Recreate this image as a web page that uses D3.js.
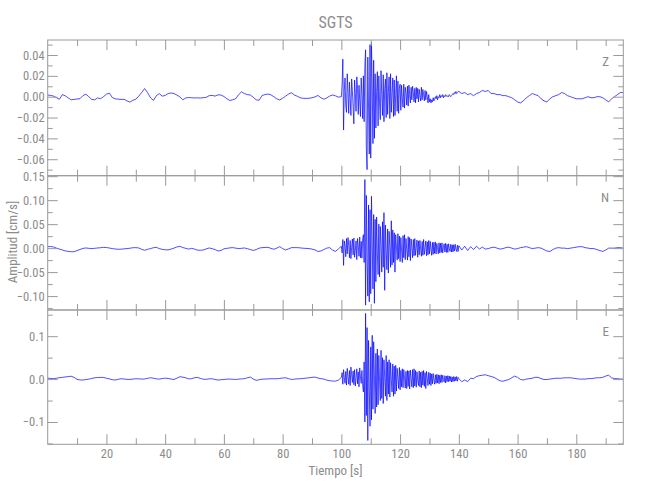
<!DOCTYPE html>
<html>
<head>
<meta charset="utf-8">
<script src="https://cdn.jsdelivr.net/npm/d3@7"></script>
<style>
  body { margin: 0; background: #fff; }
  text { font-family: "Liberation Sans Narrow", "Roboto Condensed", "DejaVu Sans Condensed", sans-serif; fill: #8c8c8c; }
</style>
</head>
<body>
<script>
'use strict';

// time limits of the record [s]
const timeRange = [0, 196];

// samples are 1 s apart before 100 s and after 140 s, 0.25 s apart in between
const preStart = 0, preStep = 1;
const strongStart = 100, strongStep = 0.25;
const codaStart = 140, codaStep = 1;

// ---- Z component [cm/s] ----
const zPre = [
  0.0016, 0.0012, 0.0006, -0.0010, -0.0024, 0.0020, 0.0008, -0.0012, -0.0030, -0.0026,
  -0.0022, -0.0019, 0.0010, 0.0024, 0.0000, -0.0026, -0.0030, -0.0012, -0.0019, 0.0000,
  0.0024, 0.0034, -0.0008, -0.0020, -0.0024, -0.0026, -0.0025, -0.0040, -0.0052, -0.0034,
  -0.0024, 0.0005, 0.0040, 0.0078, 0.0040, -0.0010, -0.0036, 0.0010, 0.0030, 0.0005,
  0.0012, 0.0030, 0.0036, 0.0030, 0.0016, -0.0002, -0.0030, -0.0012, -0.0008, -0.0010,
  -0.0012, -0.0011, -0.0013, -0.0009, -0.0006, 0.0010, 0.0012, 0.0006, 0.0018, 0.0016,
  0.0002, -0.0020, -0.0036, -0.0030, -0.0020, 0.0020, 0.0046, 0.0030, 0.0020, 0.0016,
  -0.0005, -0.0030, -0.0034, 0.0012, 0.0020, 0.0026, 0.0018, 0.0000, -0.0020, -0.0032,
  -0.0015, 0.0005, 0.0025, 0.0038, 0.0016, 0.0004, -0.0010, -0.0016, -0.0016, -0.0015,
  -0.0010, -0.0002, 0.0012, -0.0010, -0.0024, -0.0012, 0.0006, 0.0016, 0.0008, -0.0004
];
const zStrong = [
  0.000, 0.012, 0.036, -0.032, 0.006, 0.018, -0.009, -0.015,
  0.022, 0.004, -0.016, 0.014, -0.002, -0.018, 0.017, 0.006,
  -0.010, -0.026, 0.016, 0.003, -0.014, 0.019, 0.008, -0.017,
  0.011, -0.004, -0.019, 0.018, 0.002, -0.021, 0.020, -0.024,
  0.030, 0.045, -0.050, -0.070, 0.038, -0.010, -0.055, 0.050,
  -0.059, 0.052, 0.010, -0.045, 0.035, -0.040, 0.022, -0.030,
  0.005, 0.024, -0.028, 0.020, -0.006, -0.022, 0.025, 0.002,
  -0.018, 0.021, -0.024, 0.008, 0.017, -0.020, 0.023, -0.017,
  0.004, 0.019, -0.021, 0.022, -0.015, 0.003, 0.018, -0.019,
  0.016, -0.018, 0.002, 0.020, -0.014, 0.015, -0.016, 0.008,
  0.012, -0.013, 0.011, -0.002, -0.010, 0.012, -0.011, 0.009,
  0.004, -0.008, 0.010, -0.009, 0.011, 0.002, -0.006, 0.009,
  -0.003, 0.010, 0.004, -0.005, 0.008, -0.006, 0.009, -0.002,
  0.008, -0.005, 0.007, 0.001, -0.004, 0.009, -0.003, 0.007,
  0.002, -0.004, 0.006, -0.003, 0.005, 0.000, -0.006, 0.002,
  -0.005, -0.002, -0.006, -0.003, -0.005, -0.001, -0.004, -0.002,
  0.000, -0.002, 0.001, -0.003, 0.000, -0.001, 0.002, -0.001,
  0.001, 0.000, 0.002, -0.001, 0.001, 0.000, 0.002, 0.001,
  0.000, 0.001, 0.000, 0.002, 0.001, 0.000, 0.001, 0.002,
  0.003, 0.002, 0.004, 0.003, 0.005, 0.003, 0.004, 0.005
];
const zCoda = [
  0.005, 0.003, 0.004, 0.002, 0.003, 0.001, 0.003, 0.004, 0.006, 0.005,
  0.006, 0.003, 0.003, 0.002, 0.002, 0.001, 0.001, 0.000, -0.001, -0.003,
  -0.005, -0.006, -0.004, -0.001, 0.001, 0.003, 0.002, 0.001, -0.002, -0.004,
  -0.005, -0.002, 0.000, 0.001, 0.002, 0.004, 0.003, 0.001, 0.000, -0.001,
  -0.002, -0.002, -0.002, -0.001, 0.000, -0.001, -0.001, 0.000, 0.000, -0.001,
  -0.003, -0.005, -0.002, 0.000, 0.002, 0.004, 0.004
];

// ---- N component [cm/s] ----
const nPre = [
  0.0031, 0.0032, 0.0025, 0.0000, -0.0020, -0.0040, -0.0058, -0.0068, -0.0076, -0.0075,
  -0.0050, -0.0028, -0.0005, 0.0003, -0.0004, -0.0010, -0.0004, 0.0003, 0.0008, 0.0016,
  0.0012, 0.0002, -0.0010, -0.0018, -0.0024, -0.0022, -0.0015, -0.0010, -0.0002, 0.0008,
  0.0010, 0.0003, -0.0025, -0.0045, -0.0025, -0.0010, 0.0008, 0.0016, -0.0010, -0.0026,
  -0.0034, -0.0038, -0.0020, 0.0000, 0.0025, 0.0038, 0.0012, -0.0004, -0.0020, -0.0005,
  -0.0020, -0.0042, -0.0045, -0.0038, -0.0015, 0.0003, -0.0012, -0.0030, -0.0060, -0.0050,
  -0.0015, -0.0005, 0.0005, 0.0010, 0.0000, -0.0010, -0.0004, 0.0003, -0.0012, -0.0030,
  -0.0048, -0.0030, 0.0000, 0.0010, 0.0014, 0.0017, -0.0005, -0.0024, 0.0000, 0.0030,
  -0.0010, -0.0038, -0.0015, 0.0010, 0.0011, 0.0010, 0.0005, -0.0002, -0.0006, -0.0010,
  -0.0020, -0.0036, -0.0070, -0.0060, -0.0030, 0.0000, 0.0010, -0.0040, -0.0068, -0.0015
];
const nStrong = [
  0.004, -0.010, 0.018, -0.036, 0.015, 0.004, -0.018, 0.020,
  -0.012, 0.022, 0.006, -0.020, 0.016, -0.022, 0.002, 0.019,
  -0.014, 0.021, -0.019, -0.004, 0.015, -0.024, 0.020, 0.005,
  -0.017, 0.023, -0.020, 0.014, -0.021, 0.019, 0.028, -0.030,
  0.143, -0.119, 0.110, -0.020, -0.100, 0.090, -0.112, 0.080,
  -0.095, 0.108, 0.010, -0.085, 0.070, -0.115, 0.060, -0.070,
  0.065, -0.010, -0.055, 0.050, -0.060, 0.045, 0.005, -0.050,
  0.055, -0.040, 0.074, -0.088, 0.048, -0.006, -0.045, 0.040,
  -0.052, 0.035, 0.002, -0.040, 0.057, -0.035, 0.038, -0.030,
  0.032, -0.050, 0.028, 0.004, -0.025, 0.030, -0.022, 0.025,
  -0.028, 0.022, -0.004, -0.030, 0.026, -0.020, 0.028, -0.024,
  0.020, -0.002, -0.025, 0.024, -0.018, 0.022, -0.026, 0.019,
  0.003, -0.020, 0.018, -0.016, 0.020, -0.015, 0.002, 0.017,
  -0.019, 0.015, -0.014, 0.016, -0.003, -0.017, 0.014, -0.015,
  0.018, -0.013, 0.001, 0.015, -0.016, 0.013, -0.014, 0.016,
  -0.012, 0.014, -0.002, -0.015, 0.012, -0.013, 0.012, -0.011,
  0.013, -0.012, 0.010, 0.001, -0.012, 0.011, -0.010, 0.010,
  -0.009, 0.011, -0.010, 0.002, 0.009, -0.008, 0.010, -0.009,
  0.008, -0.009, 0.009, -0.001, -0.007, 0.008, -0.008, 0.007,
  -0.008, 0.007, -0.006, 0.008, -0.002, -0.007, 0.006, -0.007
];
const nCoda = [
  0.005, -0.004, 0.004, -0.005, 0.003, -0.003, 0.004, -0.002, 0.002, -0.002,
  -0.001, 0.001, 0.002, 0.000, -0.002, -0.001, 0.001, 0.002, 0.000, -0.002,
  -0.001, 0.001, 0.002, 0.003, 0.001, -0.001, 0.000, 0.001, 0.000, -0.003,
  -0.006, -0.007, -0.003, 0.000, 0.001, 0.000, 0.000, -0.001, 0.000, 0.001,
  0.002, 0.003, 0.003, 0.001, 0.000, -0.001, -0.001, -0.003, -0.005, -0.007,
  -0.004, 0.000, 0.000, 0.000, 0.001, 0.001, 0.000
];

// ---- E component [cm/s] ----
const ePre = [
  0.0023, 0.0015, 0.0008, 0.0020, 0.0032, 0.0040, 0.0050, 0.0058, 0.0066, 0.0040,
  -0.0008, -0.0020, -0.0022, -0.0012, 0.0000, 0.0015, 0.0030, 0.0036, 0.0038, 0.0039,
  0.0020, 0.0005, -0.0015, -0.0022, -0.0005, 0.0008, 0.0002, -0.0006, -0.0008, 0.0000,
  0.0008, 0.0005, 0.0000, 0.0002, 0.0018, 0.0031, 0.0020, 0.0005, 0.0000, 0.0012,
  0.0022, 0.0015, 0.0000, -0.0008, 0.0020, 0.0055, 0.0045, 0.0030, 0.0005, 0.0010,
  0.0030, 0.0039, 0.0015, -0.0005, -0.0005, 0.0005, 0.0008, -0.0010, -0.0023, -0.0015,
  -0.0008, -0.0002, 0.0000, -0.0004, -0.0008, -0.0002, 0.0005, 0.0008, 0.0030, 0.0047,
  0.0000, -0.0031, -0.0015, -0.0002, 0.0000, 0.0005, 0.0008, 0.0008, 0.0008, 0.0015,
  0.0025, 0.0031, 0.0010, -0.0008, -0.0002, 0.0005, 0.0008, 0.0015, 0.0023, 0.0030,
  0.0040, 0.0047, 0.0025, 0.0010, 0.0000, -0.0025, -0.0039, -0.0045, -0.0047, -0.0025
];
const eStrong = [
  0.004, 0.015, -0.012, 0.022, 0.003, -0.010, 0.018, -0.014,
  0.025, 0.006, -0.012, 0.020, -0.015, 0.028, 0.010, -0.008,
  0.019, -0.013, 0.022, -0.016, 0.004, 0.024, -0.011, 0.017,
  -0.018, 0.026, 0.005, -0.010, 0.020, -0.014, -0.030, 0.040,
  -0.100, 0.153, -0.085, 0.120, -0.143, 0.090, -0.020, -0.110,
  0.075, -0.095, 0.102, -0.070, 0.087, 0.010, -0.080, 0.060,
  -0.065, 0.070, -0.060, 0.055, -0.005, -0.050, 0.067, -0.045,
  0.050, -0.057, 0.045, 0.004, -0.040, 0.055, -0.050, 0.040,
  -0.035, 0.045, -0.042, 0.038, 0.000, -0.030, 0.035, -0.040,
  0.030, -0.035, 0.032, -0.028, 0.025, 0.003, -0.022, 0.027,
  -0.025, 0.020, -0.018, 0.024, -0.020, 0.022, 0.002, -0.021,
  0.018, -0.022, 0.020, -0.017, 0.019, -0.023, 0.021, 0.001,
  -0.018, 0.022, -0.020, 0.024, -0.016, 0.020, -0.019, 0.017,
  -0.002, -0.015, 0.019, -0.018, 0.016, -0.020, 0.018, -0.014,
  0.020, -0.017, 0.015, -0.022, 0.018, 0.001, -0.015, 0.016,
  -0.012, 0.014, -0.015, 0.012, -0.011, 0.013, -0.002, -0.012,
  0.010, -0.010, 0.011, -0.009, 0.010, -0.011, 0.009, -0.008,
  0.010, -0.008, 0.009, -0.001, -0.007, 0.008, -0.009, 0.007,
  -0.006, 0.008, -0.006, 0.007, -0.005, 0.006, -0.007, 0.005,
  -0.006, 0.006, -0.005, 0.005, -0.004, 0.006, -0.005, 0.004
];
const eCoda = [
  0.001, -0.006, -0.002, -0.006, 0.002, 0.001, 0.006, 0.008, 0.009, 0.010,
  0.008, 0.006, 0.004, 0.000, -0.004, -0.005, -0.003, -0.001, 0.003, 0.007,
  0.004, -0.001, -0.002, 0.000, 0.001, 0.002, 0.004, 0.004, 0.001, -0.001,
  -0.001, 0.000, 0.001, 0.002, 0.002, 0.002, 0.003, 0.003, 0.003, 0.002,
  0.001, 0.000, 0.000, 0.000, 0.001, 0.001, 0.002, 0.003, 0.003, 0.004,
  0.007, 0.009, 0.003, 0.001, 0.001, 0.000, 0.000
];

// axis ranges and tick labels per component
const zRange = [-0.0758, 0.0544];
const nRange = [-0.129, 0.151];
const eRange = [-0.152, 0.161];
const zTicks = [-0.06, -0.04, -0.02, 0.00, 0.02, 0.04];
const zMinor = [-0.07, -0.05, -0.03, -0.01, 0.01, 0.03, 0.05];
const nTicks = [-0.10, -0.05, 0.00, 0.05, 0.10, 0.15];
const nMinor = [-0.125, -0.075, -0.025, 0.025, 0.075, 0.125];
const eTicks = [-0.1, 0.0, 0.1];
const eMinor = [-0.15, -0.05, 0.05, 0.15];
const xTicks = [20, 40, 60, 80, 100, 120, 140, 160, 180];
const xMinor = [10, 30, 50, 70, 90, 110, 130, 150, 170, 190];

const left = 47.7, right = 623.3;
const panelTops = [40, 175.7, 310, 444.3];

const svg = d3.select('body').append('svg')
  .attr('width', 650)
  .attr('height', 500);

const x = d3.scaleLinear().domain(timeRange).range([left, right]);

// join the three sampling segments into [t, v] pairs
function toSeries(pre, strong, coda) {
  let pts = [];
  pre.forEach((v, i) => pts.push([preStart + i * preStep, v]));
  strong.forEach((v, i) => pts.push([strongStart + i * strongStep, v]));
  coda.forEach((v, i) => pts.push([codaStart + i * codaStep, v]));
  return pts;
}

const panels = [
  { name: 'Z', data: toSeries(zPre, zStrong, zCoda), range: zRange, ticks: zTicks, minor: zMinor, fmt: d3.format('.2f') },
  { name: 'N', data: toSeries(nPre, nStrong, nCoda), range: nRange, ticks: nTicks, minor: nMinor, fmt: d3.format('.2f') },
  { name: 'E', data: toSeries(ePre, eStrong, eCoda), range: eRange, ticks: eTicks, minor: eMinor, fmt: d3.format('.1f') }
];

const axisColor = '#9a9a9a';

function styleAxis(g) {
  g.select('.domain').remove();
  g.selectAll('line').attr('stroke', axisColor);
  g.selectAll('text').style('font-size', '12.5px').attr('fill', '#8c8c8c');
}

panels.forEach(function(p, i) {
  let top = panelTops[i], bottom = panelTops[i + 1];
  let y = d3.scaleLinear().domain(p.range).range([bottom, top]);

  // clip the trace to the panel
  svg.append('clipPath').attr('id', 'clip' + i)
    .append('rect')
      .attr('x', left).attr('y', top)
      .attr('width', right - left).attr('height', bottom - top);

  let line = d3.line()
    .x(d => x(d[0]))
    .y(d => y(d[1]));

  svg.append('path')
    .datum(p.data)
    .attr('clip-path', 'url(#clip' + i + ')')
    .attr('fill', 'none')
    .attr('stroke', '#0000ff')
    .attr('stroke-width', 0.7)
    .attr('d', line);

  // y ticks on both sides, pointing into the panel
  svg.append('g').attr('transform', `translate(${left},0)`)
    .call(d3.axisLeft(y).tickValues(p.ticks).tickSize(-10).tickPadding(3).tickFormat(p.fmt))
    .call(styleAxis);
  svg.append('g').attr('transform', `translate(${left},0)`)
    .call(d3.axisLeft(y).tickValues(p.minor).tickSize(-5).tickFormat(''))
    .call(styleAxis);
  svg.append('g').attr('transform', `translate(${right},0)`)
    .call(d3.axisRight(y).tickValues(p.ticks).tickSize(-10).tickFormat(''))
    .call(styleAxis);
  svg.append('g').attr('transform', `translate(${right},0)`)
    .call(d3.axisRight(y).tickValues(p.minor).tickSize(-5).tickFormat(''))
    .call(styleAxis);

  // x ticks top and bottom of every panel, labels only on the last one
  let last = i === panels.length - 1;
  svg.append('g').attr('transform', `translate(0,${top})`)
    .call(d3.axisTop(x).tickValues(xTicks).tickSize(-10).tickFormat(''))
    .call(styleAxis);
  svg.append('g').attr('transform', `translate(0,${top})`)
    .call(d3.axisTop(x).tickValues(xMinor).tickSize(-6).tickFormat(''))
    .call(styleAxis);
  svg.append('g').attr('transform', `translate(0,${bottom})`)
    .call(d3.axisBottom(x).tickValues(xTicks).tickSize(-10).tickPadding(5)
      .tickFormat(last ? d3.format('d') : ''))
    .call(styleAxis);
  svg.append('g').attr('transform', `translate(0,${bottom})`)
    .call(d3.axisBottom(x).tickValues(xMinor).tickSize(-6).tickFormat(''))
    .call(styleAxis);

  // panel frame
  svg.append('rect')
    .attr('x', left).attr('y', top)
    .attr('width', right - left).attr('height', bottom - top)
    .attr('fill', 'none')
    .attr('stroke', axisColor);

  // component letter
  svg.append('text')
    .attr('x', 609)
    .attr('y', top + 26)
    .attr('text-anchor', 'end')
    .style('font-size', '13px')
    .text(p.name);
});

// title and axis labels
svg.append('text')
  .attr('x', 335.5)
  .attr('y', 28)
  .attr('text-anchor', 'middle')
  .style('font-size', '16px')
  .text('SGTS');

svg.append('text')
  .attr('x', 335.5)
  .attr('y', 475)
  .attr('text-anchor', 'middle')
  .style('font-size', '13px')
  .text('Tiempo [s]');

svg.append('text')
  .attr('transform', 'translate(17, 242) rotate(-90)')
  .attr('text-anchor', 'middle')
  .style('font-size', '13px')
  .text('Amplitud [cm/s]');
</script>
</body>
</html>
